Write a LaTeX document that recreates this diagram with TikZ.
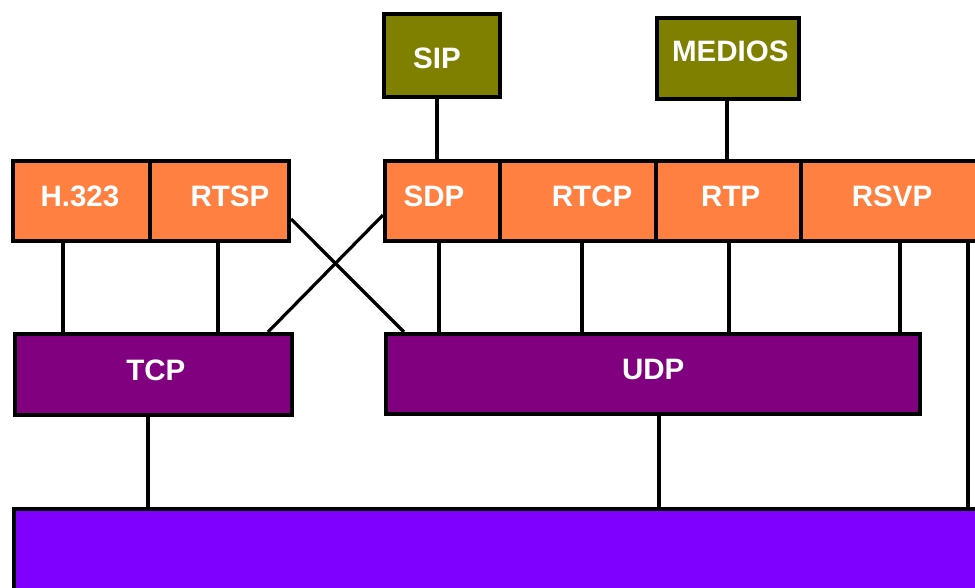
\documentclass[tikz,border=0pt]{standalone}
\usepackage{fontspec}
\setmainfont{Liberation Sans}

\definecolor{apporange}{HTML}{FF8040}
\definecolor{appolive}{HTML}{808000}
\definecolor{transpurple}{HTML}{800080}
\definecolor{netviolet}{HTML}{7F00FF}

\tikzset{
  layer/.style={draw=black, line width=0.1cm, rectangle, inner sep=0pt},
  caption/.style={text=white, inner sep=0pt, font=\bfseries\fontsize{21}{25}\selectfont},
  link/.style={draw=black, line width=0.08cm},
}

\begin{document}
\begin{tikzpicture}[x=0.025cm, y=-0.025cm]
\clip (0,0) rectangle (975,587);

% application row (left)
\node[layer, fill=apporange, minimum width=3.425cm, minimum height=2cm,
  label={[caption, xshift=-0.04cm, yshift=0.125cm]center:H.323}] (h323) at (81.5,201) {};
\node[layer, fill=apporange, minimum width=3.475cm, minimum height=2cm,
  label={[caption, xshift=0.26cm, yshift=0.125cm]center:RTSP}] (rtsp) at (219.5,201) {};

% application row (right)
\node[layer, fill=apporange, minimum width=2.8875cm, minimum height=2cm,
  label={[caption, xshift=-0.22cm, yshift=0.125cm]center:SDP}] (sdp) at (442.75,201) {};
\node[layer, fill=apporange, minimum width=3.9cm, minimum height=2cm,
  label={[caption, xshift=0.34cm, yshift=0.125cm]center:RTCP}] (rtcp) at (578.5,201) {};
\node[layer, fill=apporange, minimum width=3.6125cm, minimum height=2cm,
  label={[caption, xshift=0.05cm, yshift=0.125cm]center:RTP}] (rtp) at (728.75,201) {};
\node[layer, fill=apporange, minimum width=4.55cm, minimum height=2cm,
  label={[caption, yshift=0.125cm]center:RSVP}] (rsvp) at (892,201) {};

% top boxes
\node[layer, fill=appolive, minimum width=2.9cm, minimum height=2.075cm,
  label={[caption, xshift=-0.125cm, yshift=-0.06cm]center:SIP}] (sip) at (442,55.5) {};
\node[layer, fill=appolive, minimum width=3.5375cm, minimum height=2.025cm,
  label={[caption, xshift=0.05cm, yshift=0.19cm]center:MEDIOS}] (medios) at (728.25,58.5) {};

% transport
\node[layer, fill=transpurple, minimum width=6.925cm, minimum height=2.025cm,
  label={[caption, xshift=0.06cm, yshift=0.11cm]center:TCP}] (tcp) at (153.5,374.5) {};
\node[layer, fill=transpurple, minimum width=13.3375cm, minimum height=2cm,
  label={[caption, yshift=0.125cm]center:UDP}] (udp) at (653.25,374) {};

% network
\node[layer, fill=netviolet, minimum width=24.65cm, minimum height=3.275cm] (ip) at (507,574.5) {};

% links up
\draw[link] (437,0 |- sip.south) -- (437,0 |- sdp.north);
\draw[link] (727,0 |- medios.south) -- (727,0 |- rtp.north);

% links to tcp / udp
\draw[link] (63,0 |- h323.south) -- (63,0 |- tcp.north);
\draw[link] (218,0 |- rtsp.south) -- (218,0 |- tcp.north);
\draw[link] (439,0 |- sdp.south) -- (439,0 |- udp.north);
\draw[link] (582,0 |- rtcp.south) -- (582,0 |- udp.north);
\draw[link] (729,0 |- rtp.south) -- (729,0 |- udp.north);
\draw[link] (900,0 |- rsvp.south) -- (900,0 |- udp.north);

% crossing links
\draw[link] (rtsp.east |- 0,219) -- (404,0 |- udp.north);
\draw[link] (sdp.west |- 0,215) -- (268,0 |- tcp.north);

% links down
\draw[link] (148,0 |- tcp.south) -- (148,0 |- ip.north);
\draw[link] (659,0 |- udp.south) -- (659,0 |- ip.north);
\draw[link] (968,0 |- rsvp.south) -- (968,0 |- ip.north);
\end{tikzpicture}
\end{document}
